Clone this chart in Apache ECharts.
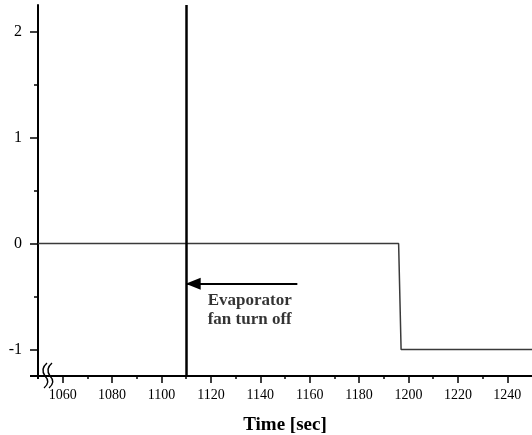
<!DOCTYPE html>
<html>
<head>
<meta charset="utf-8">
<script src="https://cdn.jsdelivr.net/npm/echarts@6/dist/echarts.min.js"></script>
<style>
html,body{margin:0;padding:0;background:#fff;}
#chart{width:532px;height:435px;}
</style>
</head>
<body>
<div id="chart"></div>
<script>
// ---- data ----
const stepTime = [1050, 1196, 1197, 1250];
const stepValue = [0, 0, -1, -1];
const eventTime = 1110;
const arrowStart = [1155, -0.38];
const arrowEnd = [1110, -0.38];
const noteText = ['Evaporator', 'fan turn off'];
const notePos = [1136.5, -0.63];
const xTickLabels = [1060, 1080, 1100, 1120, 1140, 1160, 1180, 1200, 1220, 1240];
const xMinorTicks = [1070, 1090, 1110, 1130, 1150, 1170, 1190, 1210, 1230];
const yTickLabels = [-1, 0, 1, 2];
const yMinorTicks = [-0.5, 0.5, 1.5];
const xRange = [1050, 1250];
const yRange = [-1.25, 2.25];

const FONT = "'Liberation Serif', 'Times New Roman', serif";
const chart = echarts.init(document.getElementById('chart'), null, {renderer: 'canvas'});

const stepData = stepTime.map((t, i) => [t, stepValue[i]]);

const option = {
  animation: false,
  backgroundColor: '#fff',
  grid: {left: 38, right: 0, top: 5, bottom: 59, containLabel: false, outerBoundsMode: 'none'},
  xAxis: [{
    type: 'value', min: xRange[0], max: xRange[1],
    axisLine: {show: true, onZero: false, lineStyle: {color: '#000', width: 2}},
    axisTick: {show: true, customValues: xTickLabels, length: 7, lineStyle: {color: '#000', width: 1.5}},
    axisLabel: {show: true, customValues: xTickLabels, formatter: v => String(v), margin: 12, fontSize: 14, color: '#000', fontFamily: FONT},
    splitLine: {show: false},
    name: 'Time [sec]', nameLocation: 'middle', nameGap: 40,
    nameTextStyle: {fontSize: 19, fontWeight: 'bold', color: '#000', fontFamily: FONT}
  }, {
    type: 'value', min: xRange[0], max: xRange[1], position: 'bottom', offset: 0,
    axisLine: {show: false, onZero: false},
    axisTick: {show: true, customValues: xMinorTicks, length: 3, lineStyle: {color: '#000', width: 1.5}},
    axisLabel: {show: false, customValues: xMinorTicks},
    splitLine: {show: false}
  }],
  yAxis: [{
    type: 'value', min: yRange[0], max: yRange[1],
    axisLine: {show: true, onZero: false, lineStyle: {color: '#000', width: 2}},
    axisTick: {show: true, customValues: yTickLabels, length: 8, lineStyle: {color: '#000', width: 1.5}},
    axisLabel: {show: true, customValues: yTickLabels, formatter: v => String(v), margin: 16, fontSize: 16, color: '#000', fontFamily: FONT},
    splitLine: {show: false}
  }, {
    type: 'value', min: yRange[0], max: yRange[1], position: 'left', offset: 0,
    axisLine: {show: false, onZero: false},
    axisTick: {show: true, customValues: yMinorTicks, length: 4, lineStyle: {color: '#000', width: 1.5}},
    axisLabel: {show: false, customValues: yMinorTicks},
    splitLine: {show: false}
  }],
  series: [{
    type: 'line',
    xAxisIndex: 0, yAxisIndex: 0,
    data: stepData,
    symbol: 'none',
    lineStyle: {color: '#3a3a3a', width: 1.5},
    z: 3,
    markLine: {
      silent: true,
      symbol: ['none', 'none'],
      label: {show: false},
      lineStyle: {color: '#000', width: 2.5, type: 'solid'},
      data: [{xAxis: eventTime}]
    }
  }, {
    type: 'line',
    xAxisIndex: 0, yAxisIndex: 0,
    data: [],
    markLine: {
      silent: true,
      symbol: ['none', 'triangle'],
      symbolSize: [12, 15],
      symbolOffset: [0, [0, 7]],
      label: {show: false},
      lineStyle: {color: '#000', width: 2, type: 'solid'},
      itemStyle: {color: '#000'},
      data: [[{coord: arrowStart}, {coord: arrowEnd}]]
    }
  }, {
    type: 'scatter',
    xAxisIndex: 0, yAxisIndex: 0,
    data: [notePos],
    symbolSize: 0,
    silent: true,
    label: {
      show: true, position: 'inside', formatter: noteText.join('\n'),
      align: 'left', offset: [-44, 0],
      fontSize: 17, lineHeight: 19, fontWeight: 'bold', color: '#000', fontFamily: FONT
    }
  }]
};
chart.setOption(option);

// axis-break marks near the origin, positioned from the axis scales
const o = chart.convertToPixel({gridIndex: 0}, [xRange[0], yRange[0]]);
const ox = o[0], oy = o[1];
function breakCurves(dx) {
  const x = ox + dx;
  const st = {fill: null, stroke: '#000', lineWidth: 1.4};
  return [
    {type: 'bezierCurve', shape: {x1: x + 5, y1: oy - 13, cpx1: x - 2, cpy1: oy - 7, x2: x + 3, y2: oy}, style: st, z: 51},
    {type: 'bezierCurve', shape: {x1: x + 3, y1: oy, cpx1: x + 9, cpy1: oy + 6, x2: x + 2, y2: oy + 12}, style: st, z: 51}
  ];
}
chart.setOption({
  graphic: [
    {type: 'line', shape: {x1: ox - 8, y1: oy, x2: ox, y2: oy}, style: {stroke: '#000', lineWidth: 2}, z: 50},
    {type: 'line', shape: {x1: ox, y1: oy, x2: ox, y2: oy + 3}, style: {stroke: '#000', lineWidth: 2}, z: 50}
  ].concat(breakCurves(4), breakCurves(9))
});
</script>
</body>
</html>
